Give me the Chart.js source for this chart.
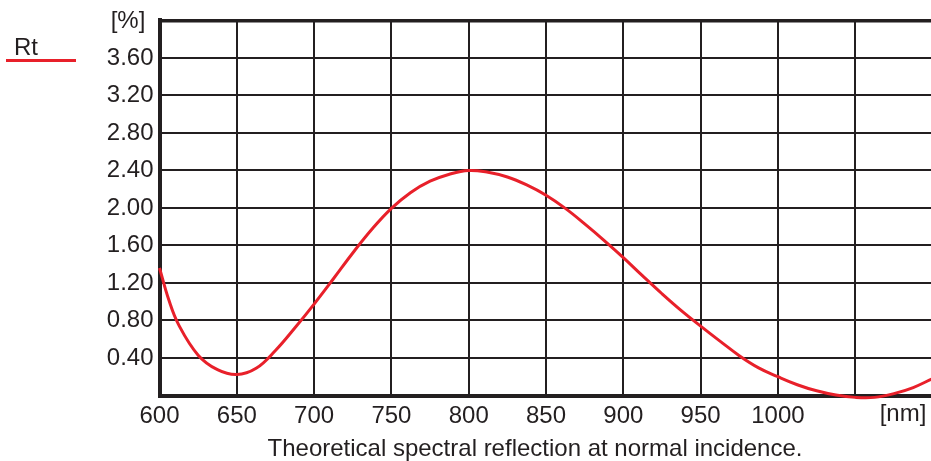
<!DOCTYPE html>
<html><head><meta charset="utf-8">
<script src="https://cdn.jsdelivr.net/npm/chart.js@4"></script>
<style>html,body{margin:0;padding:0;background:#fff;}#wrap{width:931px;height:461px;position:relative;}</style>
</head><body><div id="wrap"><canvas id="c" width="931" height="461"></canvas></div>
<script>
const wavelengths = [600, 606, 612.5, 625, 637.5, 650, 662.5, 675, 687.5, 700, 712.5, 725, 737.5, 750, 762.5, 775, 787.5, 800, 812.5, 825, 837.5, 850, 862.5, 875, 887.5, 900, 912.5, 925, 937.5, 950, 962.5, 975, 987.5, 1000, 1012.5, 1025, 1037.5, 1050, 1062.5, 1075, 1087.5, 1100];
const reflectance = [1.36, 1.02, 0.75, 0.43, 0.275, 0.223, 0.29, 0.48, 0.72, 0.975, 1.245, 1.52, 1.775, 1.995, 2.165, 2.285, 2.36, 2.40, 2.38, 2.33, 2.245, 2.135, 1.995, 1.83, 1.655, 1.47, 1.275, 1.085, 0.905, 0.74, 0.58, 0.425, 0.295, 0.20, 0.115, 0.05, 0.005, -0.02, -0.02, 0.02, 0.085, 0.18];
const xTicks = [600, 650, 700, 750, 800, 850, 900, 950, 1000, 1050];
const xLabels = ['600', '650', '700', '750', '800', '850', '900', '950', '1000', ''];
const yTicks = [0, 0.4, 0.8, 1.2, 1.6, 2.0, 2.4, 2.8, 3.2, 3.6, 4.0];
const yLabels = ['', '0.40', '0.80', '1.20', '1.60', '2.00', '2.40', '2.80', '3.20', '3.60', ''];
const seriesName = 'Rt';
const yUnit = '[%]';
const xUnit = '[nm]';
const caption = 'Theoretical spectral reflection at normal incidence.';

const INK = '#231f20';
const RED = '#e8202a';
const FONT = '"Liberation Sans", Arial, sans-serif';

const extras = {
  id: 'extras',
  afterDraw(chart) {
    const ctx = chart.ctx;
    ctx.save();
    ctx.fillStyle = INK;
    ctx.font = '24px ' + FONT;
    ctx.textBaseline = 'middle';
    ctx.textAlign = 'center';
    ctx.fillText(yUnit, 128, 21);
    ctx.fillText(xUnit, 903, 414);
    ctx.fillText(caption, 535, 449);
    ctx.textAlign = 'left';
    ctx.fillText(seriesName, 14, 48);
    ctx.strokeStyle = RED;
    ctx.lineWidth = 3;
    ctx.beginPath();
    ctx.moveTo(6, 60.5);
    ctx.lineTo(76, 60.5);
    ctx.stroke();
    ctx.restore();
  }
};

new Chart(document.getElementById('c'), {
  type: 'line',
  data: {
    datasets: [{
      label: seriesName,
      data: wavelengths.map((w, i) => ({x: w, y: reflectance[i]})),
      borderColor: RED,
      borderWidth: 3,
      pointRadius: 0,
      tension: 0.4,
      fill: false,
      clip: 6
    }]
  },
  options: {
    responsive: false,
    animation: false,
    devicePixelRatio: 1,
    layout: {padding: {left: 0, right: 0, top: 18, bottom: 0}},
    plugins: {legend: {display: false}, tooltip: {enabled: false}},
    scales: {
      x: {
        type: 'linear', min: 600, max: 1099,
        afterBuildTicks: s => { s.ticks = xTicks.map(v => ({value: v})); },
        afterFit: s => { s.height = 65.5; },
        ticks: {
          color: INK, font: {family: FONT, size: 24}, padding: 6, maxRotation: 0, autoSkip: false,
          callback: (v) => { const i = xTicks.indexOf(v); return i >= 0 ? xLabels[i] : ''; }
        },
        grid: {color: INK, lineWidth: 2, drawTicks: false},
        border: {display: true, color: INK, width: 4}
      },
      y: {
        min: 0, max: 4,
        afterBuildTicks: s => { s.ticks = yTicks.map(v => ({value: v})); },
        afterFit: s => { s.width = 159.5; },
        ticks: {
          color: INK, font: {family: FONT, size: 24}, padding: 6, autoSkip: false,
          callback: (v) => { const i = yTicks.findIndex(t => Math.abs(t - v) < 1e-6); return i >= 0 ? yLabels[i] : ''; }
        },
        grid: {color: INK, lineWidth: c => (c.tick && Math.abs(c.tick.value - 4) < 1e-6) ? 3.5 : 2, drawTicks: false},
        border: {display: true, color: INK, width: 4}
      }
    }
  },
  plugins: [extras]
});
</script></body></html>
